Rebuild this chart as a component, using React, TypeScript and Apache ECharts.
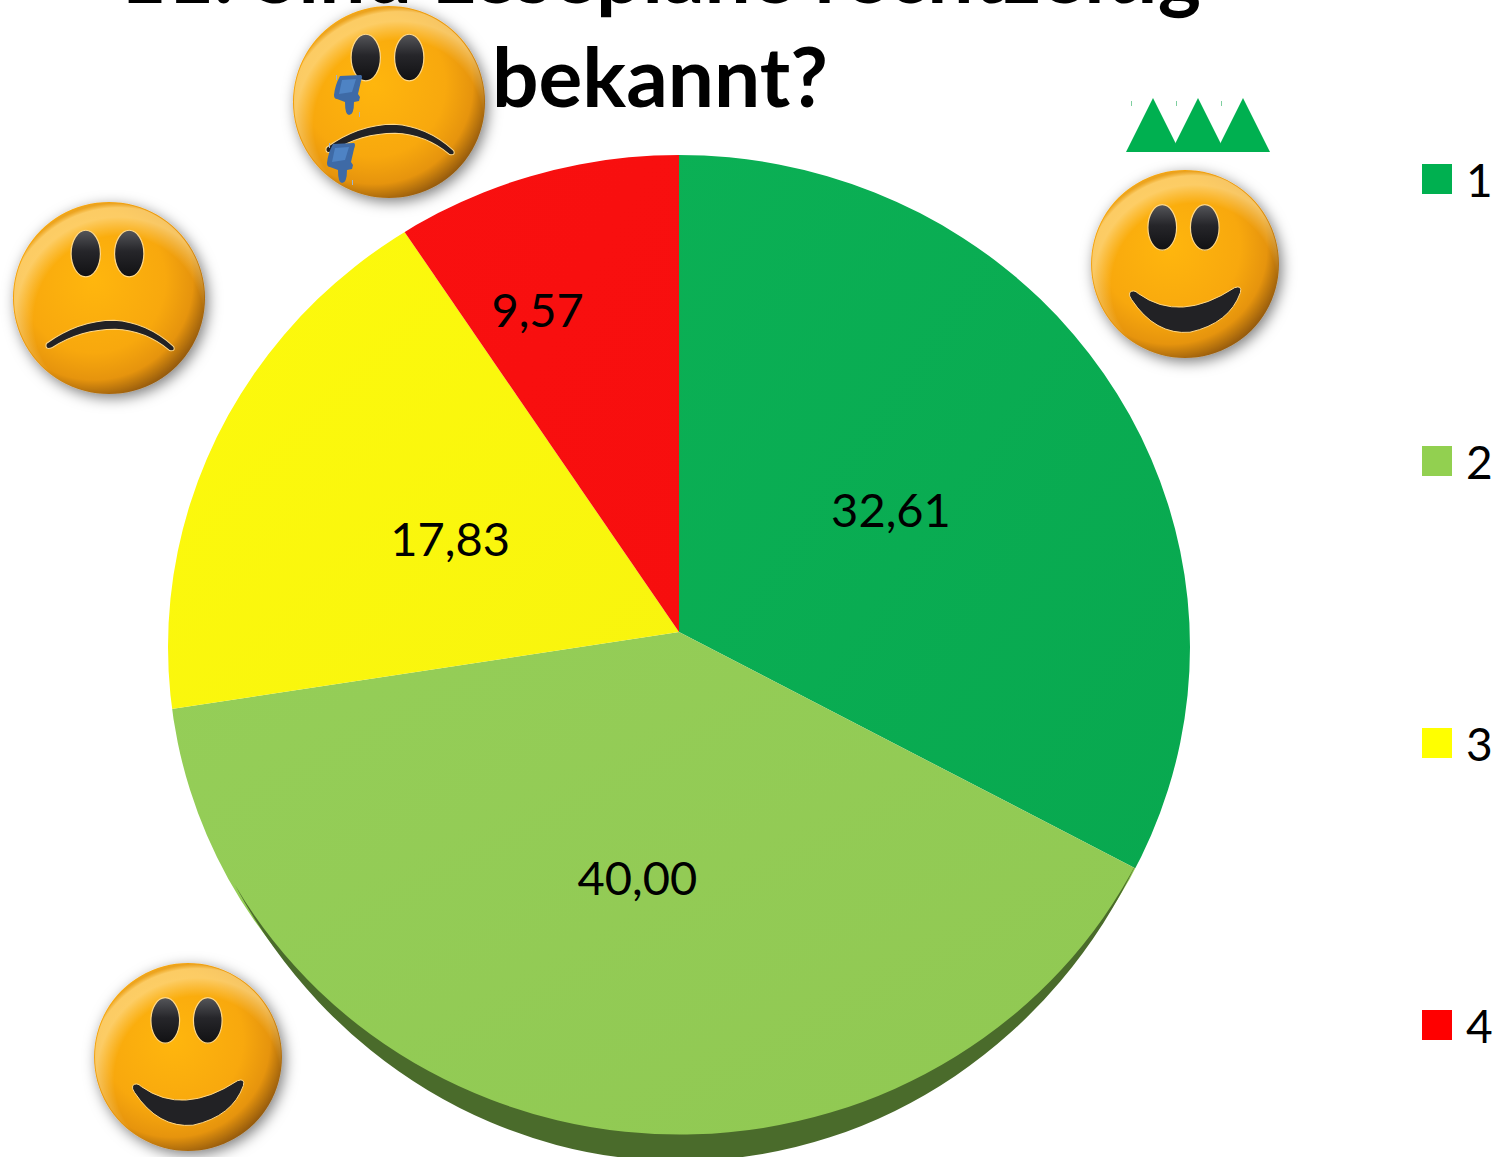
import React, { useEffect, useRef } from "react";
import * as echarts from "echarts";

const categories = ["1", "2", "3", "4"];
const values = [32.61, 40.0, 17.83, 9.57];
const titleLines = ["11. Sind Lesepläne rechtzeitig", "bekannt?"];
const sliceColors = [
  ["#0BB055", "#08A84F"],
  ["#95CE58", "#90C852"],
  ["#FDFA0C", "#F8F40E"],
  ["#F91010", "#F70E0E"],
];
const legendColors = ["#00B050", "#92D050", "#FFFF00", "#FF0000"];
const labelNudges = [[-17, 16], [2, -19], [17, 13], [-62, -67]];

const FONT = "Lato, Carlito, Calibri, sans-serif";

echarts.graphic.registerShape(
  "pieMask",
  echarts.graphic.extendPath(
    "M0 0 L1400 0 L1400 1157 L0 1157 Z M168 647 A511 492 0 0 0 1190 647 A511 492 0 0 0 168 647 Z",
    {}
  )
);
echarts.graphic.registerShape(
  "pieEdge",
  echarts.graphic.extendPath(
    "M1138 860 A511 492 0 0 1 235 885 A511 542 0 0 0 1138 860 Z",
    {}
  )
);
echarts.graphic.registerShape(
  "sadMouth",
  echarts.graphic.extendPath(
    "M-62 45 Q-30 22 5 22 Q38 24 64 48 Q66 53 60 52 Q36 32 6 31 Q-28 31 -56 49 Q-64 52 -62 45 Z",
    {}
  )
);
echarts.graphic.registerShape(
  "happyMouth",
  echarts.graphic.extendPath(
    "M-56 29 Q-52 25 -47 30 Q-5 60 50 24 Q58 21 56 29 Q45 60 5 69 Q-30 72 -54 36 Q-57 32 -56 29 Z",
    {}
  )
);
echarts.graphic.registerShape(
  "thumb",
  echarts.graphic.extendPath(
    "M6 1 L27 0 Q29 1 27 6 L24 19 L26 22 L25 26 L20 27 Q20 40 15 40 Q11 40 11 27 L3 24 Q0 24 0 20 Q1 10 6 1 Z",
    {}
  )
);
echarts.graphic.registerShape(
  "thumbInner",
  echarts.graphic.extendPath("M8 5 L22 4 L18 17 L5 19 Z", {})
);

function smiley(kind: "sad" | "happy", x: number, y: number, r: number) {
  const s = r / 95;
  const eye = kind === "sad" ? -44 : -37;
  const eyeGrad = new echarts.graphic.LinearGradient(0, 0, 0, 1, [
    { offset: 0, color: "#55565A" },
    { offset: 0.45, color: "#26262A" },
    { offset: 1, color: "#111113" },
  ]);
  const Z = 5;
  return {
    type: "group",
    x,
    y,
    scaleX: s,
    scaleY: s,
    silent: true,
    children: [
      {
        type: "circle",
        z: Z,
        shape: { cx: 0, cy: 0, r: 95 },
        style: {
          fill: new echarts.graphic.RadialGradient(0.42, 0.41, 0.68, [
            { offset: 0, color: "#FFB60F" },
            { offset: 0.55, color: "#F8A811" },
            { offset: 0.76, color: "#E6940E" },
            { offset: 0.9, color: "#9A5E0C" },
            { offset: 1, color: "#5E3A08" },
          ]),
          shadowBlur: 14,
          shadowColor: "rgba(0,0,0,0.5)",
          shadowOffsetX: 3,
          shadowOffsetY: 4,
        },
      },
      {
        type: "circle",
        z: Z,
        shape: { cx: 0, cy: 0, r: 94 },
        style: {
          fill: new echarts.graphic.RadialGradient(0.55, 0.62, 0.62, [
            { offset: 0, color: "rgba(255,225,150,0)" },
            { offset: 0.72, color: "rgba(255,225,150,0)" },
            { offset: 0.88, color: "rgba(255,228,160,0.6)" },
            { offset: 0.96, color: "rgba(255,232,170,0.55)" },
            { offset: 1, color: "rgba(224,160,50,0.5)" },
          ]),
        },
      },
      { type: "ellipse", z: Z, shape: { cx: -23, cy: eye, rx: 14.5, ry: 23 }, style: { fill: eyeGrad, stroke: "#FFD98A", lineWidth: 1.2 } },
      { type: "ellipse", z: Z, shape: { cx: 20, cy: eye, rx: 14.5, ry: 23 }, style: { fill: eyeGrad, stroke: "#FFD98A", lineWidth: 1.2 } },
      {
        type: kind === "sad" ? "sadMouth" : "happyMouth",
        z: Z,
        style: { fill: "#222225", stroke: "#FFD98A", lineWidth: 1 },
      },
    ],
  };
}

function thumb(x: number, y: number) {
  return {
    type: "group",
    x,
    y,
    silent: true,
    children: [
      { type: "thumb", z: 6, style: { fill: "#3E6AA6" } },
      { type: "thumbInner", z: 6, style: { fill: "#4E83C4" } },
      { type: "rect", z: 6, shape: { x: 2, y: 0, width: 1, height: 5 }, style: { fill: "#9DB4D2" } },
      { type: "rect", z: 6, shape: { x: 25, y: 37, width: 1, height: 5 }, style: { fill: "#9DB4D2" } },
    ],
  };
}

function triangles() {
  const apexes = [1153, 1198, 1243];
  const out: any[] = [];
  apexes.forEach((a) => {
    out.push({
      type: "polygon",
      z: 5,
      silent: true,
      shape: { points: [[a, 98], [a + 27, 152], [a - 27, 152]] },
      style: { fill: "#00B050" },
    });
    out.push({
      type: "rect",
      z: 5,
      silent: true,
      shape: { x: a - 22, y: 101, width: 1, height: 5 },
      style: { fill: "#7FCFA0" },
    });
  });
  return out;
}

export default function App() {
  const ref = useRef<HTMLDivElement>(null);
  useEffect(() => {
    const chart = echarts.init(ref.current!, undefined, { renderer: "svg" });
    chart.setOption({
      animation: false,
      backgroundColor: "#ffffff",
      title: {
        text: titleLines.join("\n"),
        left: 655,
        top: -86,
        textAlign: "center",
        z: 4,
        textStyle: {
          fontFamily: FONT,
          fontWeight: "bold",
          fontSize: 82,
          lineHeight: 104,
          color: "#000000",
        },
      },
      legend: {
        orient: "vertical",
        left: 1422,
        top: 156,
        padding: 0,
        itemWidth: 30,
        itemHeight: 30,
        itemGap: 236,
        icon: "rect",
        selectedMode: false,
        textStyle: {
          fontFamily: FONT,
          fontSize: 46,
          lineHeight: 46,
          color: "#000000",
          padding: [0, 0, 0, 9],
        },
        data: categories.map((name, i) => ({
          name,
          itemStyle: { color: legendColors[i] },
        })),
      },
      series: [
        {
          type: "pie",
          z: 1,
          center: [679, 632],
          radius: [0, 530],
          startAngle: 90,
          clockwise: true,
          silent: true,
          avoidLabelOverlap: false,
          label: {
            show: true,
            position: "inside",
            fontFamily: FONT,
            fontSize: 47,
            color: "#000000",
            formatter: (p: any) => p.value.toFixed(2).replace(".", ","),
          },
          labelLine: { show: false },
          labelLayout: (p: any) => {
            const n = labelNudges[p.dataIndex];
            return { dx: n[0], dy: n[1] };
          },
          itemStyle: { borderWidth: 0 },
          data: categories.map((name, i) => ({
            name,
            value: values[i],
            itemStyle: {
              color: new echarts.graphic.LinearGradient(0, 0, 1, 1, [
                { offset: 0, color: sliceColors[i][0] },
                { offset: 1, color: sliceColors[i][1] },
              ]),
            },
          })),
        },
      ],
      graphic: {
        elements: [
          { type: "pieMask", z: 3, silent: true, style: { fill: "#ffffff" } },
          { type: "pieEdge", z: 3, silent: true, style: { fill: "#4A6B2B" } },
          ...triangles(),
          smiley("sad", 389, 102, 96),
          smiley("sad", 109, 298, 96),
          smiley("happy", 1185, 264, 94),
          smiley("happy", 188, 1057, 94),
          thumb(334, 75),
          thumb(327, 143),
        ],
      },
    });
    return () => chart.dispose();
  }, []);
  return (
    <div
      ref={ref}
      style={{ position: "absolute", left: 0, top: 0, width: 1508, height: 1157, background: "#fff" }}
    />
  );
}
